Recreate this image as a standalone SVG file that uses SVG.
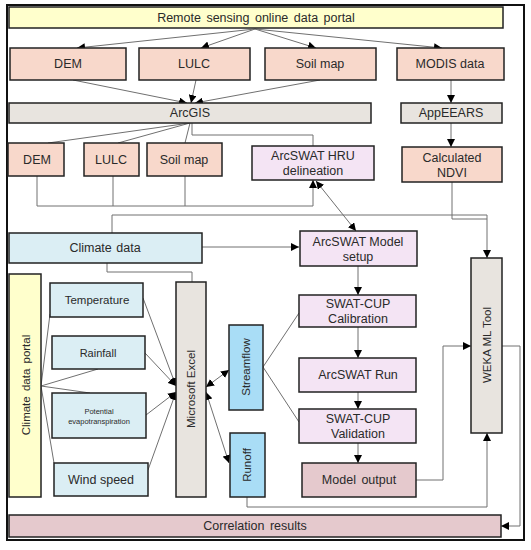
<svg xmlns="http://www.w3.org/2000/svg" width="531" height="550" viewBox="0 0 531 550">
<defs>
<marker id="ah" viewBox="0 0 10 10" refX="10" refY="5" markerWidth="8" markerHeight="8" markerUnits="userSpaceOnUse" orient="auto-start-reverse">
<path d="M0,0 L10,5 L0,10 z" fill="#000"/>
</marker>
<style>
text{font-family:"Liberation Sans",Arial,sans-serif;font-size:12.5px;fill:#2a2a2a;text-anchor:middle;dominant-baseline:central}
.r{font-size:11.5px}
.b{stroke:#222;stroke-width:1.5}
.yel{fill:#FFFFCC}
.pch{fill:#F8D8CB}
.gry{fill:#E8E4DF}
.lav{fill:#F4E4F4}
.lbl{fill:#DBEEF4}
.sky{fill:#A9DDF6}
.pnk{fill:#E5C9CD}
.c{fill:none;stroke:#707070;stroke-width:1}
.a{marker-end:url(#ah)}
.d{marker-start:url(#ah);marker-end:url(#ah)}
</style>
</defs>
<rect width="531" height="550" fill="#fff"/>
<rect x="7" y="5" width="517" height="535" fill="none" stroke="#111" stroke-width="2"/>

<g id="connectors">
<path class="c a" d="M255,29 L77,48"/>
<path class="c a" d="M255,29 L201,48"/>
<path class="c a" d="M255,29 L316,48"/>
<path class="c a" d="M255,29 L442,48"/>
<path class="c a" d="M73,80 L187,103"/>
<path class="c a" d="M196,80 L191,103"/>
<path class="c a" d="M320,80 L195,103"/>
<path class="c a" d="M451,80 L451,103"/>
<path class="c a" d="M451,123 L451,147"/>
<path class="c" d="M190,123 L48,143"/>
<path class="c" d="M190,123 L118,143"/>
<path class="c" d="M190,123 L185,143"/>
<path class="c" d="M192,123 L192,135 L313,135 L313,146"/>
<path class="c" d="M37,176 L37,206 L313,206"/>
<path class="c" d="M113,176 L113,206"/>
<path class="c" d="M185,176 L185,206"/>
<path class="c a" d="M313,206 L313,180"/>
<path class="c d" d="M316,181 L356,231"/>
<path class="c" d="M112,233 L112,215 L487,215"/>
<path class="c" d="M452,182 L452,219 L487,219"/>
<path class="c a" d="M487,215 L487,258"/>
<path class="c a" d="M202,247 L299,247"/>
<path class="c" d="M107,263 L107,272 L192,272 L192,282"/>
<path class="c a" d="M358,266 L358,295"/>
<path class="c a" d="M358,327 L358,358"/>
<path class="c a" d="M358,392 L358,409"/>
<path class="c a" d="M358,443 L358,463"/>
<path class="c" d="M41,386 L50,314"/>
<path class="c" d="M41,386 L98,369"/>
<path class="c" d="M41,386 L90,393"/>
<path class="c" d="M41,386 L54,463"/>
<path class="c a" d="M143,298 L176,386"/>
<path class="c a" d="M145,353 L176,386"/>
<path class="c a" d="M146,415 L176,392"/>
<path class="c a" d="M148,470 L176,392"/>
<path class="c d" d="M206,387 L229,370"/>
<path class="c d" d="M206,392 L229,463"/>
<path class="c" d="M263,367 L299,313"/>
<path class="c" d="M263,367 L299,422"/>
<path class="c a" d="M416,480 L443,480 L443,346 L471,346"/>
<path class="c a" d="M247,497 L247,507 L487,507 L487,433"/>
<path class="c a" d="M501,346 L520,346 L520,526 L501,526"/>
</g>

<g id="remote"><rect class="yel b" x="9" y="7" width="494" height="21"/><text x="256" y="18" style="word-spacing:2px">Remote sensing online data portal</text></g>
<g id="dem1"><rect class="pch b" x="10" y="48" width="116" height="32"/><text x="68" y="64">DEM</text></g>
<g id="lulc1"><rect class="pch b" x="139" y="48" width="111" height="32"/><text x="194" y="64">LULC</text></g>
<g id="soil1"><rect class="pch b" x="265" y="48" width="111" height="32"/><text x="320" y="64">Soil map</text></g>
<g id="modis"><rect class="pch b" x="397" y="48" width="107" height="32"/><text x="450" y="64">MODIS data</text></g>
<g id="arcgis"><rect class="gry b" x="9" y="103" width="362" height="20"/><text x="190" y="113">ArcGIS</text></g>
<g id="appeears"><rect class="gry b" x="401" y="103" width="101" height="20"/><text x="451" y="113">AppEEARS</text></g>
<g id="dem2"><rect class="pch b" x="8" y="143" width="56" height="33"/><text x="37" y="160">DEM</text></g>
<g id="lulc2"><rect class="pch b" x="84" y="143" width="55" height="33"/><text x="111" y="160">LULC</text></g>
<g id="soil2"><rect class="pch b" x="147" y="143" width="75" height="33"/><text x="184" y="160">Soil map</text></g>
<g id="hru"><rect class="lav b" x="252" y="146" width="122" height="34"/><text x="313" y="156">ArcSWAT HRU</text><text x="313" y="171">delineation</text></g>
<g id="ndvi"><rect class="pch b" x="402" y="147" width="100" height="35"/><text x="452" y="158">Calculated</text><text x="452" y="173">NDVI</text></g>
<g id="climate"><rect class="lbl b" x="9" y="233" width="193" height="30"/><text x="105" y="248" style="word-spacing:1px">Climate data</text></g>
<g id="setup"><rect class="lav b" x="300" y="231" width="117" height="35"/><text x="358" y="242">ArcSWAT Model</text><text x="358" y="257">setup</text></g>
<g id="weka"><rect class="gry b" x="471" y="258" width="31" height="175"/><text class="r" transform="translate(487,345) rotate(-90)">WEKA ML Tool</text></g>
<g id="portal"><rect class="yel b" x="9" y="274" width="32" height="223"/><text class="r" transform="translate(26,385) rotate(-90)" style="word-spacing:2px">Climate data portal</text></g>
<g id="temp"><rect class="lbl b" x="50" y="283" width="93" height="34"/><text x="97" y="300" style="font-size:11.5px">Temperature</text></g>
<g id="rain"><rect class="lbl b" x="52" y="336" width="93" height="33"/><text x="98" y="353" style="font-size:11px">Rainfall</text></g>
<g id="pet"><rect class="lbl b" x="52" y="393" width="94" height="45"/><text x="99" y="411" style="font-size:7.5px">Potential</text><text x="99" y="421" style="font-size:7.5px">evapotranspiration</text></g>
<g id="wind"><rect class="lbl b" x="54" y="463" width="94" height="33"/><text x="101" y="480">Wind speed</text></g>
<g id="excel"><rect class="gry b" x="176" y="282" width="30" height="215"/><text class="r" transform="translate(191,389) rotate(-90)">Microsoft Excel</text></g>
<g id="streamflow"><rect class="sky b" x="229" y="325" width="34" height="85"/><text class="r" transform="translate(246,367) rotate(-90)">Streamflow</text></g>
<g id="runoff"><rect class="sky b" x="230" y="433" width="35" height="64"/><text class="r" transform="translate(247,465) rotate(-90)">Runoff</text></g>
<g id="calib"><rect class="lav b" x="299" y="295" width="117" height="32"/><text x="358" y="304">SWAT-CUP</text><text x="358" y="319">Calibration</text></g>
<g id="run"><rect class="lav b" x="299" y="358" width="117" height="34"/><text x="358" y="375">ArcSWAT Run</text></g>
<g id="valid"><rect class="lav b" x="299" y="409" width="117" height="34"/><text x="358" y="419">SWAT-CUP</text><text x="358" y="434">Validation</text></g>
<g id="output"><rect class="pnk b" x="302" y="463" width="114" height="34"/><text x="359" y="480" style="word-spacing:2px">Model output</text></g>
<g id="correlation"><rect class="pnk b" x="9" y="515" width="492" height="22"/><text x="255" y="526" style="word-spacing:2px">Correlation results</text></g>
</svg>
